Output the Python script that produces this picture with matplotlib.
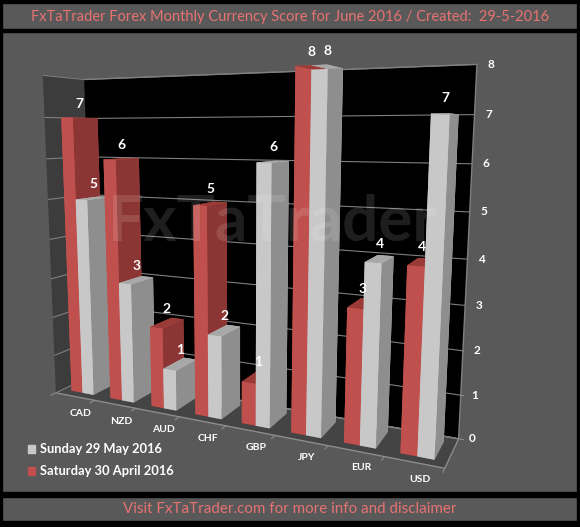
import numpy as np
import matplotlib.pyplot as plt
from matplotlib.patches import Rectangle
from mpl_toolkits.mplot3d import proj3d

# scores per currency
currencies = ['CAD', 'NZD', 'AUD', 'CHF', 'GBP', 'JPY', 'EUR', 'USD']
score_may29 = [5, 3, 1, 2, 6, 8, 4, 7]   # grey, Sunday 29 May 2016
score_apr30 = [7, 6, 2, 5, 1, 8, 3, 4]   # red, Saturday 30 April 2016
value_ticks = [0, 1, 2, 3, 4, 5, 6, 7, 8]

label_may = 'Sunday 29 May 2016'
label_apr = 'Saturday 30 April 2016'
title = 'FxTaTrader Forex Monthly Currency Score for June 2016 / Created:  29-5-2016'
footer = 'Visit FxTaTrader.com for more info and disclaimer'

plt.rcParams['font.family'] = ['Lato', 'DejaVu Sans']

W, H = 580, 527
fig = plt.figure(figsize=(W / 100, H / 100), dpi=100, facecolor='#595959')

def band(y0, y1, x0=0, x1=W, color='black'):
    fig.patches.append(Rectangle((x0 / W, 1 - y1 / H), (x1 - x0) / W, (y1 - y0) / H,
                                 transform=fig.transFigure, color=color, zorder=0))

# frame
band(0, 3)
band(29, 32)
band(492, 497)
band(521, 527)
band(0, H, 0, 2)
band(0, H, 577, W)

fig.text(290 / W, 1 - 17 / H, title, color='#e87272', fontsize=10.5,
         ha='center', va='center')
fig.text(290 / W, 1 - 509 / H, footer, color='#e87272', fontsize=10.9,
         ha='center', va='center')

# 3d chart, camera fitted to the excel view
zoom = 1.176
ax = fig.add_axes([-0.0553, 0.0817, 0.92, 0.87], projection='3d')
ax.set_facecolor((0, 0, 0, 0))
ax.set_proj_type('persp', focal_length=0.2519 * zoom)
ax.view_init(elev=9.0, azim=-64.06)

n = len(currencies)
xmin, xmax = -0.5, n - 0.5
ax.set_xlim(xmin, xmax)
ax.set_ylim(0, 1)
ax.set_zlim(0, 8)
ax.set_box_aspect((7.74, 1.25, 6.287), zoom=zoom)

ax.xaxis.set_pane_color('#3c3c3c')
ax.yaxis.set_pane_color('#000000')
ax.zaxis.set_pane_color('#444444')
ax.xaxis.pane.set_edgecolor('#3c3c3c')
ax.yaxis.pane.set_edgecolor('#7f7f7f')
ax.zaxis.pane.set_edgecolor('#8c8c8c')
for a in (ax.xaxis, ax.yaxis, ax.zaxis):
    a.line.set_color((0, 0, 0, 0))
ax.xaxis._axinfo['grid']['color'] = (0, 0, 0, 0)
ax.yaxis._axinfo['grid']['color'] = (0, 0, 0, 0)
ax.zaxis._axinfo['grid']['color'] = '#7f7f7f'
ax.zaxis._axinfo['grid']['linewidth'] = 0.8

ax.set_xticks([])
ax.set_yticks([])
ax.set_zticks(value_ticks)
ax.set_zticklabels([])
ax.tick_params(colors=(0, 0, 0, 0))

w, d, y0 = 0.286, 0.62, 0.19
idx = np.arange(n)
# face order: bottom, top, front, back, left, right
red = ['#7a2e2c', '#9a3b38', '#c0504d', '#c0504d', '#c0504d', '#8b3634']
grey = ['#7f7f7f', '#a8a8a8', '#c8c8c8', '#c8c8c8', '#c8c8c8', '#8e8e8e']
xs = np.concatenate([idx - w, idx])
vals = np.array(score_apr30 + score_may29)
cols = red * n + grey * n
ax.bar3d(xs, np.full(2 * n, y0), np.zeros(2 * n), w, d, vals,
         color=cols, shade=False, zsort='max')

for x, v in zip(xs, vals):
    ax.text(x + w / 2, y0 + d / 2, v + 0.2, str(v), color='white',
            fontsize=10, fontweight='bold', ha='center', va='bottom')

# floor ticks between categories
for b in np.arange(xmin, xmax + 0.01, 1.0):
    ax.plot([b, b], [0, -0.12], [0, 0], color='#8c8c8c', lw=0.8)
for v in value_ticks:
    ax.plot([xmax, xmax + 0.1], [1, 1], [v, v], color='#8c8c8c', lw=0.8)

# labels placed in pixels from the projected axis points
fig.canvas.draw()
M = ax.get_proj()
for i, c in enumerate(currencies):
    px, py, _ = proj3d.proj_transform(i, 0, 0, M)
    ax.annotate(c, xy=(px, py), xytext=(6, -17), textcoords='offset pixels',
                color='white', fontsize=7.5, fontweight='bold',
                ha='center', va='center', annotation_clip=False)
for v in value_ticks:
    px, py, _ = proj3d.proj_transform(xmax, 1, v, M)
    ax.annotate(str(v), xy=(px, py), xytext=(14, 0), textcoords='offset pixels',
                color='white', fontsize=8.5, fontweight='bold',
                ha='center', va='center', annotation_clip=False)

# watermark
fig.text(272 / W, 1 - 222 / H, 'FxTaTrader', color='white', alpha=0.12,
         fontsize=46, fontweight='bold', ha='center', va='center')

# legend
for yy, col, lab in [(449, '#c8c8c8', label_may), (471, '#c0504d', label_apr)]:
    band(yy - 4, yy + 4, 28, 35, color=col)
    fig.text(40 / W, 1 - yy / H, lab, color='white', fontsize=9.3,
             fontweight='bold', ha='left', va='center')

fig.savefig('out.png', dpi=100, facecolor=fig.get_facecolor())
